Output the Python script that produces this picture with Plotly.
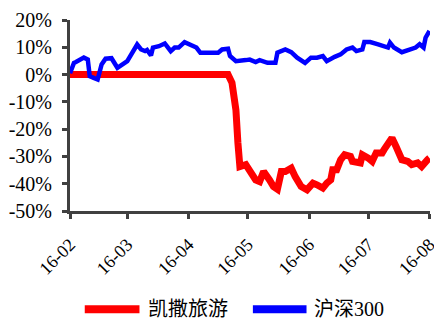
import plotly.graph_objects as go

blue_dates = ["2016-02-01","2016-02-03","2016-02-04","2016-02-08","2016-02-10","2016-02-11","2016-02-13","2016-02-15",
              "2016-02-17","2016-02-19","2016-02-22","2016-02-25","2016-03-01","2016-03-03","2016-03-06","2016-03-08",
              "2016-03-10","2016-03-11","2016-03-13","2016-03-14","2016-03-17","2016-03-20","2016-03-23","2016-03-25",
              "2016-03-27","2016-03-30","2016-04-02","2016-04-05","2016-04-07","2016-04-10","2016-04-13","2016-04-16",
              "2016-04-18","2016-04-21","2016-04-22","2016-04-25","2016-04-27","2016-04-30","2016-05-02","2016-05-05",
              "2016-05-07","2016-05-11","2016-05-15","2016-05-16","2016-05-20","2016-05-23","2016-05-26","2016-05-30",
              "2016-06-02","2016-06-05","2016-06-08","2016-06-10","2016-06-14","2016-06-17","2016-06-20","2016-06-23",
              "2016-06-25","2016-06-28","2016-06-29","2016-07-02","2016-07-06","2016-07-09","2016-07-11","2016-07-12",
              "2016-07-14","2016-07-18","2016-07-22","2016-07-25","2016-07-27","2016-07-29","2016-07-30","2016-08-01"]
blue_vals = [0.5, 4.3, 4.6, 6.2, 5.5, -0.6, -1.2, -1.8,
             3.7, 5.8, 6.0, 2.5, 4.9, 7.4, 11.0, 9.2,
             8.6, 9.0, 7.0, 9.9, 10.4, 11.4, 8.6, 9.9,
             9.9, 11.9, 11.1, 9.9, 8.0, 8.2, 8.0, 8.0,
             9.2, 9.5, 6.8, 4.9, 4.9, 5.3, 5.5, 4.6,
             5.3, 4.3, 4.3, 8.0, 9.2, 8.2, 6.2, 4.3,
             6.2, 6.2, 6.8, 4.9, 6.5, 7.4, 9.2, 9.9,
             8.6, 9.2, 11.9, 11.9, 11.1, 10.2, 9.9, 11.7,
             9.9, 8.2, 9.2, 9.9, 11.1, 9.9, 13.5, 16.0]

red_dates = ["2016-02-01","2016-04-21","2016-04-23","2016-04-25","2016-04-26","2016-04-27","2016-04-30","2016-05-02",
             "2016-05-05","2016-05-07","2016-05-09","2016-05-12","2016-05-14","2016-05-16","2016-05-18","2016-05-20",
             "2016-05-23","2016-05-25","2016-05-28","2016-05-31","2016-06-03","2016-06-05","2016-06-08","2016-06-10",
             "2016-06-12","2016-06-13","2016-06-15","2016-06-17","2016-06-19","2016-06-22","2016-06-23","2016-06-27",
             "2016-06-28","2016-07-01","2016-07-03","2016-07-05","2016-07-08","2016-07-09","2016-07-13","2016-07-15",
             "2016-07-18","2016-07-21","2016-07-23","2016-07-26","2016-07-28","2016-07-31","2016-08-01"]
red_vals = [0, 0, -3, -13, -25, -33.7, -33, -34.9,
            -38.6, -39.2, -35.5, -38.6, -41, -42, -35.5, -35.5,
            -34.3, -37.4, -41, -42.2, -39.8, -40.4, -41.6, -39.8,
            -38.6, -34.9, -34.9, -31.2, -29.4, -30, -31.8, -32.4,
            -29.4, -30.6, -31.8, -28.7, -28.7, -27.5, -23.2, -26.3,
            -31.2, -31.8, -33, -32.4, -33.7, -31.2, -30.6]

series_names = ["凯撒旅游", "沪深300"]
series_colors = ["#ff0000", "#0000ff"]

tick_dates = ["2016-02-01","2016-03-01","2016-04-01","2016-05-01","2016-06-01","2016-07-01","2016-08-01"]
tick_labels = ["16-02","16-03","16-04","16-05","16-06","16-07","16-08"]
y_ticks = [-50, -40, -30, -20, -10, 0, 10, 20]
y_labels = ["-50%", "-40%", "-30%", "-20%", "-10%", "0%", "10%", "20%"]

fig = go.Figure()
fig.add_trace(go.Scatter(x=red_dates, y=red_vals, name=series_names[0], mode="lines",
                         line=dict(color=series_colors[0], width=7), showlegend=False))
fig.add_trace(go.Scatter(x=blue_dates, y=blue_vals, name=series_names[1], mode="lines",
                         line=dict(color=series_colors[1], width=4.5), showlegend=False))

# custom legend below the plot (paper coordinates)
legend_y = -0.515
legend_slots = [(0.041, 0.193, 0.21), (0.508, 0.657, 0.673)]
for name, color, (x0, x1, xt) in zip(series_names, series_colors, legend_slots):
    fig.add_shape(type="line", xref="paper", yref="paper", x0=x0, x1=x1, y0=legend_y, y1=legend_y,
                  line=dict(color=color, width=8))
    fig.add_annotation(xref="paper", yref="paper", x=xt, y=legend_y, text=name, showarrow=False,
                       xanchor="left", yanchor="middle",
                       font=dict(size=20, family="Times New Roman, Liberation Serif, Noto Sans CJK SC, serif",
                                 color="#000000"))

axis_color = "#404040"
serif = "Times New Roman, Liberation Serif, serif"
fig.update_layout(
    width=434, height=321,
    margin=dict(l=70, r=4, t=20, b=110, autoexpand=False),
    paper_bgcolor="white", plot_bgcolor="white",
    font=dict(family=serif, size=18, color="#000000"),
    showlegend=False,
    xaxis=dict(type="date", range=["2016-02-01", "2016-08-01 06:00"], tickvals=tick_dates, ticktext=tick_labels,
               tickangle=-45, showgrid=False, zeroline=False, showline=True, linecolor=axis_color, linewidth=3,
               ticks="outside", ticklen=5, tickwidth=3, tickcolor=axis_color, ticklabeloverflow="allow",
               ticklabelstandoff=8, automargin=False, tickfont=dict(size=18, family=serif)),
    yaxis=dict(range=[-50, 20], tickvals=y_ticks, ticktext=y_labels, showgrid=False, zeroline=False,
               showline=True, linecolor=axis_color, linewidth=3, automargin=False,
               ticks="outside", ticklen=5, tickwidth=3, tickcolor=axis_color, ticklabelstandoff=6,
               tickfont=dict(size=20, family=serif)),
)

fig.write_html("out.html")
